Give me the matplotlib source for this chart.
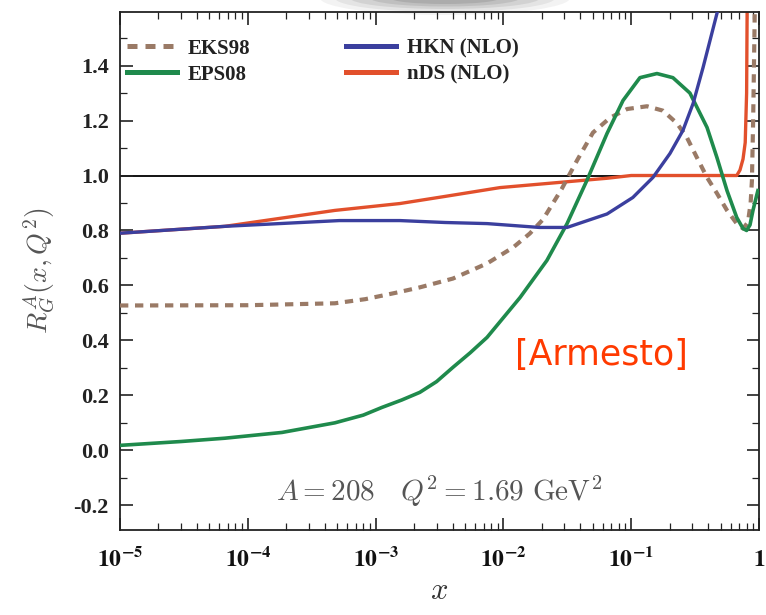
import numpy as np
import matplotlib
matplotlib.use("Agg")
import matplotlib.pyplot as plt
from matplotlib.patches import Ellipse
from matplotlib.ticker import LogLocator, MultipleLocator, FixedLocator, NullFormatter

# ---- data ----
eks_x = [1e-5, 1e-4, 4.8e-4, 8.3e-4, 1.5e-3, 2.22e-3, 4.03e-3, 7.45e-3, 0.0119, 0.0161,
         0.0204, 0.0285, 0.0377, 0.0502, 0.0682, 0.093, 0.133, 0.177, 0.228, 0.273,
         0.327, 0.392, 0.469, 0.562, 0.67, 0.75, 0.82, 0.86, 0.88, 0.90, 0.92, 0.94]
eks_y = [0.527, 0.528, 0.535, 0.55, 0.575, 0.593, 0.625, 0.68, 0.738, 0.789,
         0.84, 0.95, 1.055, 1.156, 1.21, 1.242, 1.252, 1.236, 1.19, 1.138,
         1.065, 0.993, 0.935, 0.873, 0.825, 0.807, 0.83, 0.90, 0.98, 1.2, 1.5, 1.8]

eps_x = [1e-5, 3e-5, 6.6e-5, 1.85e-4, 4.8e-4, 8e-4, 1.12e-3, 1.6e-3, 2.22e-3, 3e-3,
         4.03e-3, 5.5e-3, 7.45e-3, 0.0135, 0.0219, 0.0315, 0.045, 0.0647, 0.0863, 0.117,
         0.159, 0.212, 0.288, 0.392, 0.469, 0.562, 0.67, 0.75, 0.80, 0.85, 0.897, 0.98]
eps_y = [0.018, 0.032, 0.044, 0.065, 0.10, 0.128, 0.156, 0.183, 0.211, 0.25,
         0.302, 0.355, 0.411, 0.556, 0.691, 0.825, 0.982, 1.153, 1.273, 1.356,
         1.371, 1.356, 1.30, 1.175, 1.065, 0.945, 0.847, 0.807, 0.80, 0.82, 0.873, 0.945]

hkn_x = [1e-5, 6.6e-5, 5.2e-4, 1.55e-3, 3.5e-3, 7.45e-3, 0.0191, 0.0315, 0.0647, 0.103,
         0.148, 0.201, 0.254, 0.305, 0.365, 0.469, 0.52]
hkn_y = [0.79, 0.815, 0.836, 0.836, 0.829, 0.825, 0.811, 0.811, 0.86, 0.92,
         0.993, 1.08, 1.164, 1.262, 1.393, 1.59, 1.68]

nds_x = [1e-5, 6.6e-5, 4.8e-4, 1.55e-3, 3.5e-3, 9.4e-3, 0.0647, 0.1, 0.3, 0.67, 0.71,
         0.75, 0.78, 0.80, 0.81]
nds_y = [0.79, 0.815, 0.873, 0.898, 0.924, 0.956, 0.99, 1.0, 1.0, 1.0, 1.02,
         1.06, 1.12, 1.3, 1.7]

xtick_vals = [1e-5, 1e-4, 1e-3, 1e-2, 1e-1, 1]
xtick_labels = [r'$\mathbf{10^{-5}}$', r'$\mathbf{10^{-4}}$', r'$\mathbf{10^{-3}}$',
                r'$\mathbf{10^{-2}}$', r'$\mathbf{10^{-1}}$', r'$\mathbf{1}$']
ytick_vals = [-0.2, 0.0, 0.2, 0.4, 0.6, 0.8, 1.0, 1.2, 1.4]
ytick_labels = ['-0.2', '0.0', '0.2', '0.4', '0.6', '0.8', '1.0', '1.2', '1.4']

c_eks = '#9a7a66'
c_eps = '#1f8a4c'
c_hkn = '#3b3f9e'
c_nds = '#e2502c'

plt.rcParams['mathtext.fontset'] = 'cm'

fig = plt.figure(figsize=(7.66, 6.15), dpi=100)
ax = fig.add_axes([120/766, 85/615, 639/766, 518/615])

ax.axhline(1.0, color='black', lw=1.3, zorder=1)
l_eks, = ax.plot(eks_x, eks_y, color=c_eks, lw=3, ls=(0, (2.0, 1.6)), zorder=3, label='EKS98')
l_eps, = ax.plot(eps_x, eps_y, color=c_eps, lw=2.6, zorder=4, label='EPS08')
l_hkn, = ax.plot(hkn_x, hkn_y, color=c_hkn, lw=2.4, zorder=5, label='HKN (NLO)')
l_nds, = ax.plot(nds_x, nds_y, color=c_nds, lw=2.4, zorder=2, label='nDS (NLO)')

ax.set_xscale('log')
ax.set_xlim(1e-5, 1)
ax.set_ylim(-0.29, 1.595)

ax.xaxis.set_major_locator(FixedLocator(xtick_vals))
ax.xaxis.set_minor_locator(LogLocator(base=10, subs=np.arange(2, 10), numticks=20))
ax.xaxis.set_minor_formatter(NullFormatter())
ax.set_xticklabels(xtick_labels)
ax.yaxis.set_major_locator(FixedLocator(ytick_vals))
ax.yaxis.set_minor_locator(MultipleLocator(0.1))
ax.set_yticklabels(ytick_labels)

ax.tick_params(which='both', direction='in', top=True, right=True, color='#222222')
ax.tick_params(which='major', length=9, width=1.2)
ax.tick_params(which='minor', length=5, width=0.9)
ax.tick_params(axis='x', which='major', pad=12)
ax.tick_params(axis='y', which='major', pad=8)
for lab in ax.get_yticklabels():
    lab.set_fontfamily('Liberation Serif')
    lab.set_fontweight('bold')
    lab.set_fontsize(16)
    lab.set_color('#222222')
for lab in ax.get_xticklabels():
    lab.set_math_fontfamily('stix')
    lab.set_fontsize(17)
    lab.set_color('#111111')

for sp in ax.spines.values():
    sp.set_linewidth(1.3)
    sp.set_color('#222222')

ax.set_xlabel(r'$x$', fontsize=22, color='#333333', labelpad=4)
ax.set_ylabel(r'$R_G^A(x,Q^2)$', fontsize=20, color='#555555', labelpad=12)

leg = ax.legend(handles=[l_eks, l_eps, l_hkn, l_nds], ncol=2, loc='upper left',
                frameon=False, bbox_to_anchor=(-0.018, 0.985), handlelength=2.4,
                handletextpad=0.5, columnspacing=4.6, labelspacing=0.3,
                prop={'family': 'Liberation Serif', 'weight': 'bold', 'size': 15})
for t in leg.get_texts():
    t.set_color('#222222')
for h in leg.legend_handles:
    h.set_linewidth(3.6)

ax.text(0.5, 0.075, r'$A = 208 \quad Q^2 = 1.69\ \mathrm{GeV}^2$', transform=ax.transAxes,
        fontsize=21, color='#555555', ha='center', va='center')
ax.text(0.754, 0.338, '[Armesto]', transform=ax.transAxes, fontsize=25,
        color='#ff3a00', ha='center', va='center', family='DejaVu Sans')

# soft gray blob at the top of the image
for w, h, a in [(250, 34, 0.06), (220, 28, 0.08), (190, 22, 0.10), (150, 17, 0.12),
                (110, 12, 0.14)]:
    e = Ellipse((445/766, 1 + 2/615), w/766, h/615, transform=fig.transFigure,
                facecolor='#3a3a3a', edgecolor='none', alpha=a, zorder=0)
    fig.patches.append(e)

fig.savefig('out.png', dpi=100)
